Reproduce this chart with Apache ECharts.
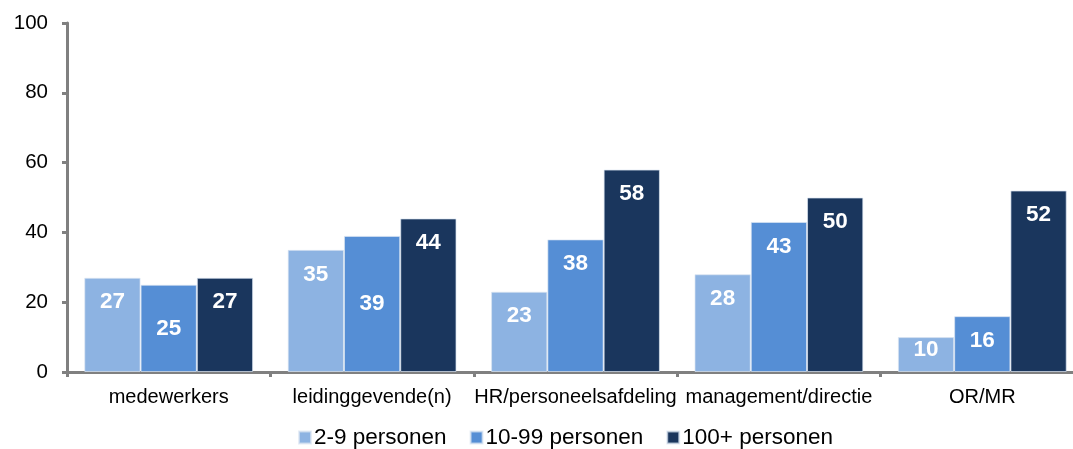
<!DOCTYPE html>
<html>
<head>
<meta charset="utf-8">
<script src="https://cdn.jsdelivr.net/npm/echarts@6/dist/echarts.min.js"></script>
<style>
  html, body { margin: 0; padding: 0; background: #ffffff; overflow: hidden; }
  /* the drawing is a bit wider than the window so the last category runs off the right edge */
  #chart { width: 1085px; height: 449px; }
</style>
</head>
<body>
<div id="chart"></div>
<script>
// Categories (x axis) and series
const categories = ['medewerkers', 'leidinggevende(n)', 'HR/personeelsafdeling', 'management/directie', 'OR/MR'];
const seriesNames = ['2-9 personen', '10-99 personen', '100+ personen'];
const small = [27, 35, 23, 28, 10];
const medium = [25, 39, 38, 43, 16];
const large = [27, 44, 58, 50, 52];
const yTicks = [0, 20, 40, 60, 80, 100];

const colors = ['#8DB3E2', '#558ED5', '#1A365D'];
const seriesValues = [small, medium, large];

// Labels that sit in the middle of their bar instead of near the top
const centeredLabels = { '1-0': true, '1-1': true };
// Short bars get a label pressed right against the top edge
const tightLabels = { '0-4': true };

function buildData(si, values) {
  return values.map((v, ci) => {
    const key = si + '-' + ci;
    if (centeredLabels[key]) return { value: v, label: { position: 'inside' } };
    if (tightLabels[key]) return { value: v, label: { position: 'insideTop', distance: 1 } };
    return v;
  });
}

const chart = echarts.init(document.getElementById('chart'), null, { renderer: 'canvas' });
const axisGray = '#808080';

chart.setOption({
  animation: false,
  textStyle: { fontFamily: 'Liberation Sans, Arial, sans-serif' },
  grid: { left: 67, right: 1, top: 23, bottom: 77, containLabel: false },
  legend: {
    top: 426,
    left: 298,
    padding: 0,
    icon: 'rect',
    itemWidth: 12,
    itemHeight: 12,
    itemGap: 23,
    textStyle: { fontSize: 22.5, color: '#000', padding: [0, 0, 0, -2] },
    data: seriesNames
  },
  xAxis: {
    type: 'category',
    data: categories,
    boundaryGap: true,
    axisLine: { lineStyle: { color: axisGray, width: 3 } },
    axisTick: { show: true, alignWithLabel: false, length: 5, lineStyle: { color: axisGray, width: 3 } },
    axisLabel: { fontSize: 20, color: '#000', margin: 15, interval: 0 },
    splitLine: { show: false }
  },
  yAxis: {
    type: 'value',
    min: yTicks[0],
    max: yTicks[yTicks.length - 1],
    interval: yTicks[1] - yTicks[0],
    axisLine: { show: true, lineStyle: { color: axisGray, width: 3 } },
    axisTick: { show: true, length: 5, lineStyle: { color: axisGray, width: 3 } },
    axisLabel: { fontSize: 20.5, color: '#000', margin: 19 },
    splitLine: { show: false }
  },
  series: seriesValues.map((vals, si) => ({
    name: seriesNames[si],
    type: 'bar',
    barGap: '0%',
    barCategoryGap: '17%',
    itemStyle: { color: colors[si], borderColor: 'rgba(220,230,242,0.7)', borderWidth: 1 },
    label: {
      show: true,
      position: 'insideTop',
      distance: 13,
      color: '#fff',
      fontWeight: 'bold',
      fontSize: 22.5
    },
    data: buildData(si, vals)
  }))
});
</script>
</body>
</html>
